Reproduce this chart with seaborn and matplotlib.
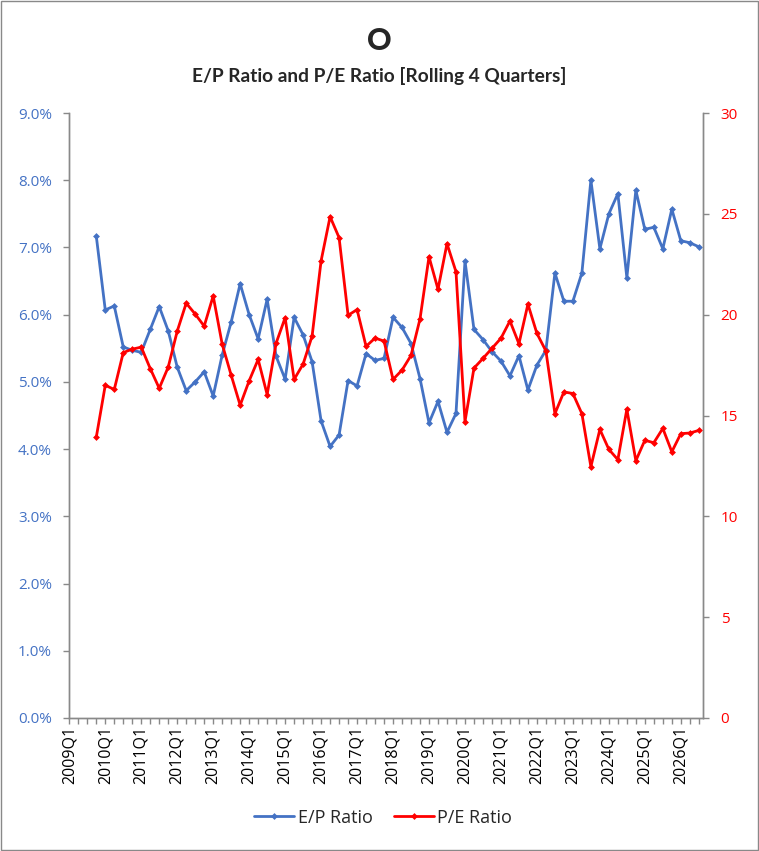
import numpy as np
import pandas as pd
import matplotlib
matplotlib.use("Agg")
import matplotlib.pyplot as plt
import seaborn as sns
from matplotlib.patches import Rectangle
from matplotlib.ticker import FuncFormatter, MultipleLocator

# quarters on the category axis
years = list(range(2009, 2027))
quarters = [f"{y}Q{q}" for y in years for q in range(1, 5)]

# first value is 2009Q4, last is 2026Q3
first_quarter = "2009Q4"

ep_ratio = [7.17, 6.07, 6.13, 5.52, 5.47, 5.44, 5.78, 6.12, 5.76, 5.22,
            4.87, 5.00, 5.15, 4.79, 5.40, 5.89, 6.46, 6.00, 5.64, 6.23,
            5.38, 5.04, 5.96, 5.70, 5.30, 4.42, 4.04, 4.21, 5.02, 4.94,
            5.42, 5.32, 5.35, 5.96, 5.81, 5.57, 5.05, 4.39, 4.71, 4.25,
            4.53, 6.80, 5.78, 5.63, 5.45, 5.31, 5.09, 5.39, 4.88, 5.25,
            5.47, 6.62, 6.20, 6.20, 6.62, 8.00, 6.98, 7.50, 7.80, 6.55,
            7.85, 7.27, 7.30, 6.98, 7.57, 7.10, 7.07, 7.01]

pe_ratio = [13.92, 16.50, 16.29, 18.12, 18.29, 18.39, 17.33, 16.35, 17.40, 19.18,
            20.57, 20.03, 19.43, 20.93, 18.54, 17.00, 15.51, 16.72, 17.78, 16.04,
            18.59, 19.85, 16.79, 17.55, 18.94, 22.67, 24.86, 23.82, 19.97, 20.25,
            18.43, 18.84, 18.69, 16.79, 17.25, 17.98, 19.79, 22.87, 21.26, 23.52,
            22.13, 14.70, 17.35, 17.83, 18.33, 18.83, 19.69, 18.56, 20.52, 19.07,
            18.20, 15.09, 16.17, 16.09, 15.09, 12.46, 14.31, 13.32, 12.81, 15.31,
            12.76, 13.77, 13.65, 14.36, 13.20, 14.10, 14.13, 14.26]

blue = "#4472C4"
red = "#FF0000"
grey = "#898989"

start = quarters.index(first_quarter)
df = pd.DataFrame({
    "pos": np.arange(start, start + len(ep_ratio)),
    "ep": ep_ratio,
    "pe": pe_ratio,
})

sns.set_style("white")
plt.rcParams["font.family"] = ["Open Sans", "DejaVu Sans"]

fig = plt.figure(figsize=(7.59, 8.51), dpi=100)
ax = fig.add_axes([0.0913, 0.1563, 0.8353, 0.7109])
ax2 = ax.twinx()

sns.lineplot(data=df, x="pos", y="ep", ax=ax, color=blue, linewidth=2,
             marker="D", markersize=3.5, markeredgewidth=0, label="E/P Ratio", legend=False)
sns.lineplot(data=df, x="pos", y="pe", ax=ax2, color=red, linewidth=2,
             marker="D", markersize=3.5, markeredgewidth=0, label="P/E Ratio", legend=False)

ax.set_xlim(0, 70.5)
ax.set_ylim(0, 9)
ax2.set_ylim(0, 30)

ax.yaxis.set_major_locator(MultipleLocator(1))
ax.yaxis.set_major_formatter(FuncFormatter(lambda v, p: f"{v:.1f}%"))
ax2.yaxis.set_major_locator(MultipleLocator(5))

ax.set_xticks(range(0, len(quarters), 4))
ax.set_xticklabels(quarters[::4], rotation=90)
ax.set_xticks(range(0, 71), minor=True)

ax.set_xlabel("")
ax.set_ylabel("")
ax2.set_ylabel("")

for a in (ax, ax2):
    a.spines["top"].set_visible(False)
    for s in ("left", "right", "bottom"):
        a.spines[s].set_color(grey)
        a.spines[s].set_linewidth(1)

ax.tick_params(axis="y", colors=grey, labelcolor=blue, labelsize=11, length=4.5, width=1,
               pad=8, left=True)
ax2.tick_params(axis="y", colors=grey, labelcolor=red, labelsize=11, length=4.5, width=1,
                pad=8, right=True)
ax.tick_params(axis="x", which="both", colors=grey, labelcolor="black", labelsize=11.5,
               length=4, width=1, pad=1.5, bottom=True)

fig.text(0.5, 0.952, "O", ha="center", va="center", fontsize=22, fontweight="black",
         family=["Lato", "DejaVu Sans"])
fig.text(0.5, 0.911, "E/P Ratio and P/E Ratio [Rolling 4 Quarters]", ha="center",
         va="center", fontsize=13.8, fontweight="bold", family=["Lato", "DejaVu Sans"])

h1, l1 = ax.get_legend_handles_labels()
h2, l2 = ax2.get_legend_handles_labels()
fig.legend(h1 + h2, l1 + l2, loc="center", bbox_to_anchor=(0.505, 0.039), ncol=2,
           frameon=False, fontsize=13, handlelength=2.2, handletextpad=0.2,
           columnspacing=1.2)

fig.patches.append(Rectangle((0.001, 0.001), 0.998, 0.998, transform=fig.transFigure,
                             fill=False, edgecolor=grey, linewidth=1))

fig.savefig("out.png", dpi=100)
